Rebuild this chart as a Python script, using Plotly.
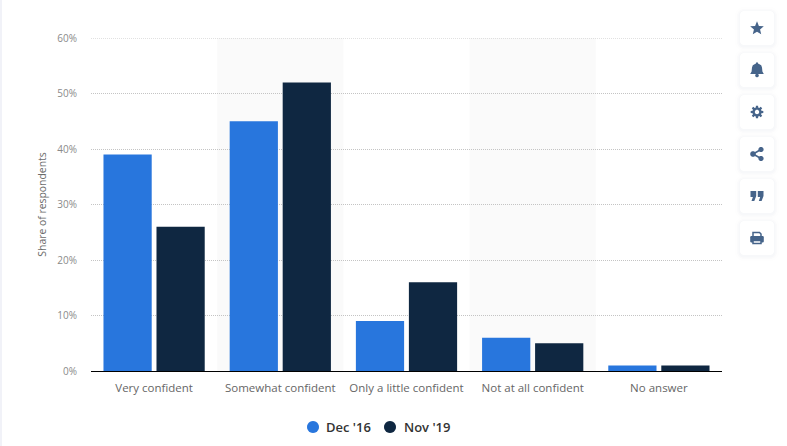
import math
import plotly.graph_objects as go

categories = ["Very confident", "Somewhat confident", "Only a little confident", "Not at all confident", "No answer"]
dec_16 = [39, 45, 9, 6, 1]
nov_19 = [26, 52, 16, 5, 1]
series_names = ["Dec '16", "Nov '19"]
y_ticks = [0, 10, 20, 30, 40, 50, 60]
y_labels = ["0%", "10%", "20%", "30%", "40%", "50%", "60%"]
y_title = "Share of respondents"

BLUE = "#2876dd"
NAVY = "#0f2741"
ICON = "#46648a"
W, H = 787, 446
L, R, T, B = 91, 65, 38, 75
PW, PH = W - L - R, H - T - B


def fx(x):
    return (x - L) / PW


def fy(y):
    return 1 - (y - T) / PH


def pts(points, cx, cy, close=True):
    d = "M" + " L".join(f"{fx(cx + a):.5f},{fy(cy + b):.5f}" for a, b in points)
    return d + (" Z" if close else "")


def icon(path, **kw):
    return dict(type="path", xref="paper", yref="paper", path=path, fillcolor=kw.get("fill", ICON),
                line=dict(width=kw.get("lw", 0), color=kw.get("lc", ICON)), layer="above")


def circle(cx, cy, r):
    return pts([(r * math.cos(i * math.pi / 12), r * math.sin(i * math.pi / 12)) for i in range(24)], cx, cy)


def rrect(x0, y0, x1, y1, r):
    p = []
    for cx, cy, s in [(x1 - r, y0 + r, -90), (x1 - r, y1 - r, 0), (x0 + r, y1 - r, 90), (x0 + r, y0 + r, 180)]:
        for k in range(7):
            a = math.radians(s + k * 15)
            p.append((cx + r * math.cos(a), cy + r * math.sin(a)))
    return pts(p, 0, 0)


shapes = []
# alternating category bands
for c in (categories[1], categories[3]):
    i = categories.index(c)
    shapes.append(dict(type="rect", xref="x", yref="paper", x0=i - 0.5, x1=i + 0.5, y0=0, y1=1,
                       fillcolor="#fafafa", line_width=0, layer="below"))
# top gridline (plotly drops the grid line that sits on the range end)
shapes.append(dict(type="line", xref="paper", yref="y", x0=0, x1=1, y0=y_ticks[-1], y1=y_ticks[-1],
                   line=dict(color="#c4c4c4", width=1, dash="1px,1px"), layer="below"))
# faint strip on the page's left edge
shapes.append(dict(type="rect", xref="paper", yref="paper", x0=fx(0), x1=fx(2), y0=fy(446), y1=fy(0),
                   fillcolor="#f1f2f8", line_width=0, layer="below"))
# toolbar cards
card_tops = [11, 53, 95, 137, 179, 221]
for top in card_tops:
    for g, op in [(5, 0.008), (3, 0.014), (1.5, 0.02)]:
        shapes.append(dict(type="path", xref="paper", yref="paper",
                           path=rrect(740 - g, top - g + 1, 774 + g, top + 34 + g + 1, 4 + g),
                           fillcolor=f"rgba(70,90,140,{op})", line_width=0, layer="below"))
    shapes.append(dict(type="path", xref="paper", yref="paper", path=rrect(740, top, 774, top + 34, 4),
                       fillcolor="#ffffff", line_width=0, layer="below"))

CX = 757
# star
star = [((7.2 if i % 2 == 0 else 3.2) * math.sin(i * math.pi / 5), -(7.2 if i % 2 == 0 else 3.2) * math.cos(i * math.pi / 5)) for i in range(10)]
shapes.append(icon(pts(star, CX, 28.5)))
# bell
bell = [(-6.8, 4.5), (-5.4, 2), (-5, -2), (-4.2, -4.2), (-2, -5.5), (-1, -6), (-1, -7), (1, -7), (1, -6), (2, -5.5), (4.2, -4.2), (5, -2), (5.4, 2), (6.8, 4.5)]
shapes.append(icon(pts(bell, CX, 69.5)))
shapes.append(icon(circle(CX, 75.5, 1.8)))
# gear
gear = []
for i in range(8):
    a = i * math.pi / 4
    for da, r in [(-0.27, 4.6), (-0.17, 6.4), (0.17, 6.4), (0.27, 4.6)]:
        gear.append((r * math.cos(a + da), r * math.sin(a + da)))
shapes.append(icon(pts(gear, CX, 112)))
shapes.append(icon(circle(CX, 112, 2.2), fill="#ffffff"))
# share
shapes.append(icon(pts([(4, -4.5), (-4, 0), (4, 4.5)], CX, 154, close=False), fill="rgba(0,0,0,0)", lw=1.6))
shapes.append(icon(circle(CX - 4, 154, 2.8)))
shapes.append(icon(circle(CX + 4, 149.5, 2.6)))
shapes.append(icon(circle(CX + 4, 158.5, 2.6)))
# quotes
for dx in (-6.5, 0.8):
    q = [(0, -5), (5.7, -5), (5.7, 0), (3.8, 5), (1, 5), (2.4, 1), (0, 1)]
    shapes.append(icon(pts(q, CX + dx, 196)))
# printer
shapes.append(icon(rrect(CX - 6.8, 236, CX + 6.8, 242.5, 1.2)))
shapes.append(icon(pts([(-4, -5.5), (2.5, -5.5), (4, -4), (4, -1), (-4, -1)], CX, 238), fill="rgba(0,0,0,0)", lw=1.5))
shapes.append(icon(pts([(-4, 1.5), (4, 1.5), (4, 4.5), (-4, 4.5)], CX, 239), fill="#ffffff", lw=1.5))

# legend: dots and labels placed by hand to reproduce the tight spacing
LEG_Y = 427
annotations = []
for name, col, dot_x, text_x in zip(series_names, [BLUE, NAVY], [313, 390], [326, 404]):
    shapes.append(icon(circle(dot_x, LEG_Y, 6), fill=col))
    annotations.append(dict(text=name, xref="paper", yref="paper", x=fx(text_x), y=fy(LEG_Y), xanchor="left",
                            yanchor="middle", showarrow=False, borderpad=0, borderwidth=0,
                            font=dict(family="Open Sans, sans-serif", size=13, color="#333333", weight=600)))

fig = go.Figure()
for name, vals, col in zip(series_names, [dec_16, nov_19], [BLUE, NAVY]):
    fig.add_bar(x=categories, y=vals, name=name, marker=dict(color=col, line_width=0), showlegend=False)

TICK_FONT = dict(family="Open Sans, sans-serif", size=11.5, color="#666666")
fig.update_layout(
    width=W, height=H, autosize=False,
    margin=dict(l=L, r=R, t=T, b=B, pad=0),
    paper_bgcolor="#ffffff", plot_bgcolor="rgba(0,0,0,0)",
    barmode="group", bargap=0.16, bargroupgap=0.09,
    showlegend=False,
    shapes=shapes, annotations=annotations,
    xaxis=dict(type="category", categoryorder="array", categoryarray=categories, range=[-0.5, 4.5],
               showgrid=False, zeroline=False, showline=True, linecolor="#000000", linewidth=1,
               ticks="", ticklabelstandoff=6, tickfont=TICK_FONT, fixedrange=True),
    yaxis=dict(range=[0, 60], tickvals=y_ticks, ticktext=y_labels, showgrid=True, griddash="1px,1px",
               gridcolor="#c4c4c4", gridwidth=1, zeroline=False, showline=False, ticks="",
               ticklabelstandoff=13, tickfont=dict(family="Open Sans, sans-serif", size=10, color="#8a8a8a"),
               title=dict(text=y_title, standoff=8,
                          font=dict(family="Open Sans, sans-serif", size=10.4, color="#6b6b6b")),
               fixedrange=True),
)
fig.write_html("out.html", config=dict(displayModeBar=False),
               post_script="document.body.style.margin='0';")
